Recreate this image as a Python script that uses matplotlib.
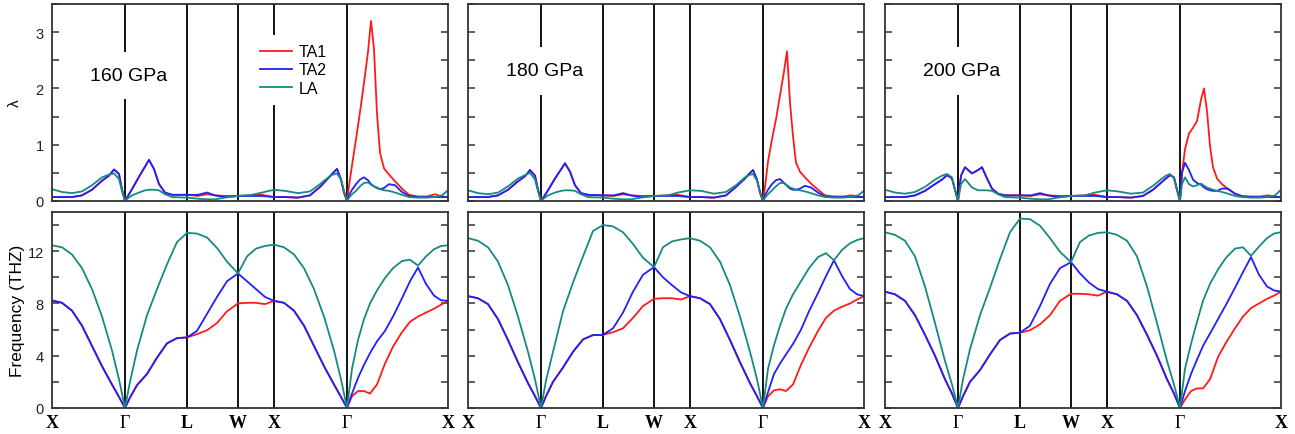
import numpy as np
import matplotlib.pyplot as plt
from matplotlib.ticker import MultipleLocator

plt.rcParams['font.family'] = ['Liberation Sans', 'DejaVu Sans']

# high-symmetry points along the path
KPTS = [0, 0.73, 1.35, 1.86, 2.22, 2.95, 3.96]
KLABELS = ['X', 'Γ', 'L', 'W', 'X', 'Γ', 'X']
PRESSURES = ['160 GPa', '180 GPa', '200 GPa']

# sample positions along the path (same units as KPTS * 100)
K_LAM = np.array([0, 10, 20, 30, 40, 50, 57, 62, 67, 70, 73,
                  76, 80, 87, 93, 97, 102, 107, 113, 120, 135,
                  146, 155, 163, 173, 186,
                  200, 210, 222,
                  233, 246, 258, 268, 277, 281, 285, 289, 292, 295,
                  297, 300, 304, 308, 312, 316, 319, 322, 325, 328,
                  332, 337, 343, 350, 357, 366, 375, 383, 390, 396]) / 100

K_FREQ = np.array([0, 10, 20, 30, 40, 50, 60, 67, 73,
                   78, 85, 95, 105, 115, 125, 135,
                   145, 155, 165, 175, 186,
                   195, 204, 213, 222,
                   232, 242, 252, 262, 272, 282, 289, 295,
                   300, 306, 312, 318, 325, 333, 341, 350, 358, 366, 374, 382, 389, 396]) / 100

# ---- electron-phonon coupling lambda ----
LAM160_TA1 = [0.07, 0.07, 0.07, 0.10, 0.20, 0.36, 0.45, 0.56, 0.48, 0.20, 0,
              0.09, 0.21, 0.43, 0.61, 0.73, 0.57, 0.30, 0.15, 0.11, 0.11,
              0.09, 0.12, 0.10, 0.09, 0.09,
              0.10, 0.11, 0.07,
              0.07, 0.06, 0.10, 0.25, 0.42, 0.50, 0.57, 0.38, 0.15, 0,
              0.27, 0.63, 1.10, 1.58, 2.10, 2.65, 3.20, 2.70, 1.55, 0.86,
              0.58, 0.47, 0.35, 0.22, 0.11, 0.08, 0.08, 0.12, 0.08, 0.07]
LAM160_TA2 = [0.07, 0.07, 0.07, 0.10, 0.20, 0.36, 0.45, 0.56, 0.48, 0.20, 0,
              0.09, 0.21, 0.43, 0.61, 0.73, 0.57, 0.30, 0.15, 0.11, 0.11,
              0.11, 0.15, 0.10, 0.07, 0.09,
              0.09, 0.09, 0.07,
              0.07, 0.06, 0.10, 0.25, 0.42, 0.50, 0.57, 0.38, 0.15, 0,
              0.10, 0.20, 0.30, 0.38, 0.42, 0.37, 0.30, 0.26, 0.23, 0.21,
              0.23, 0.30, 0.28, 0.16, 0.09, 0.07, 0.07, 0.07, 0.07, 0.07]
LAM160_LA = [0.21, 0.16, 0.14, 0.17, 0.28, 0.42, 0.47, 0.49, 0.39, 0.18, 0,
             0.05, 0.10, 0.15, 0.19, 0.20, 0.20, 0.19, 0.12, 0.07, 0.06,
             0.04, 0.03, 0.03, 0.06, 0.09,
             0.11, 0.15, 0.20,
             0.18, 0.14, 0.17, 0.30, 0.43, 0.47, 0.49, 0.38, 0.18, 0,
             0.06, 0.12, 0.18, 0.26, 0.32, 0.33, 0.29, 0.26, 0.24, 0.21,
             0.19, 0.18, 0.15, 0.11, 0.07, 0.06, 0.06, 0.07, 0.10, 0.19]

LAM180_TA1 = [0.07, 0.07, 0.07, 0.10, 0.20, 0.35, 0.44, 0.55, 0.45, 0.20, 0,
              0.08, 0.19, 0.40, 0.56, 0.67, 0.52, 0.28, 0.14, 0.11, 0.10,
              0.09, 0.12, 0.10, 0.09, 0.09,
              0.10, 0.11, 0.07,
              0.07, 0.06, 0.10, 0.25, 0.40, 0.48, 0.55, 0.38, 0.15, 0,
              0.25, 0.70, 1.10, 1.45, 1.88, 2.30, 2.66, 1.75, 1.15, 0.68,
              0.52, 0.42, 0.31, 0.20, 0.10, 0.08, 0.08, 0.10, 0.08, 0.07]
LAM180_TA2 = [0.07, 0.07, 0.07, 0.10, 0.20, 0.35, 0.44, 0.55, 0.45, 0.20, 0,
              0.08, 0.19, 0.40, 0.56, 0.67, 0.52, 0.28, 0.14, 0.11, 0.10,
              0.10, 0.14, 0.10, 0.07, 0.09,
              0.09, 0.09, 0.07,
              0.07, 0.06, 0.10, 0.25, 0.40, 0.48, 0.55, 0.38, 0.15, 0,
              0.10, 0.20, 0.30, 0.37, 0.39, 0.32, 0.27, 0.22, 0.20, 0.20,
              0.22, 0.27, 0.24, 0.15, 0.08, 0.07, 0.07, 0.07, 0.07, 0.07]
LAM180_LA = [0.19, 0.14, 0.12, 0.15, 0.26, 0.40, 0.46, 0.50, 0.38, 0.18, 0,
             0.05, 0.10, 0.15, 0.18, 0.19, 0.19, 0.18, 0.12, 0.07, 0.06,
             0.04, 0.03, 0.03, 0.06, 0.09,
             0.10, 0.15, 0.19,
             0.18, 0.13, 0.16, 0.28, 0.42, 0.46, 0.48, 0.36, 0.17, 0,
             0.06, 0.12, 0.19, 0.26, 0.32, 0.32, 0.28, 0.24, 0.22, 0.20,
             0.19, 0.17, 0.14, 0.10, 0.07, 0.06, 0.06, 0.07, 0.10, 0.18]

LAM200_TA1 = [0.07, 0.07, 0.07, 0.10, 0.18, 0.30, 0.38, 0.46, 0.40, 0.20, 0,
              0.45, 0.60, 0.49, 0.55, 0.60, 0.40, 0.22, 0.13, 0.10, 0.10,
              0.09, 0.12, 0.10, 0.09, 0.09,
              0.10, 0.11, 0.07,
              0.07, 0.06, 0.09, 0.20, 0.34, 0.40, 0.46, 0.42, 0.20, 0,
              0.50, 0.92, 1.20, 1.30, 1.42, 1.80, 2.00, 1.60, 0.98, 0.60,
              0.40, 0.30, 0.21, 0.13, 0.09, 0.08, 0.08, 0.10, 0.08, 0.07]
LAM200_TA2 = [0.07, 0.07, 0.07, 0.10, 0.18, 0.30, 0.38, 0.46, 0.40, 0.20, 0,
              0.45, 0.60, 0.49, 0.55, 0.60, 0.40, 0.22, 0.13, 0.10, 0.10,
              0.10, 0.14, 0.10, 0.07, 0.09,
              0.09, 0.09, 0.07,
              0.07, 0.06, 0.09, 0.20, 0.34, 0.40, 0.46, 0.42, 0.20, 0,
              0.50, 0.68, 0.55, 0.38, 0.32, 0.29, 0.24, 0.21, 0.19, 0.18,
              0.18, 0.22, 0.22, 0.13, 0.08, 0.07, 0.07, 0.07, 0.07, 0.07]
LAM200_LA = [0.20, 0.15, 0.13, 0.16, 0.25, 0.38, 0.45, 0.48, 0.42, 0.20, 0,
             0.30, 0.39, 0.24, 0.19, 0.19, 0.19, 0.18, 0.12, 0.07, 0.06,
             0.04, 0.03, 0.03, 0.06, 0.09,
             0.10, 0.15, 0.19,
             0.17, 0.13, 0.15, 0.27, 0.40, 0.45, 0.48, 0.40, 0.20, 0,
             0.30, 0.42, 0.30, 0.26, 0.28, 0.31, 0.27, 0.24, 0.22, 0.20,
             0.18, 0.16, 0.13, 0.09, 0.07, 0.06, 0.06, 0.07, 0.10, 0.20]

# ---- phonon frequencies (THz) ----
FRQ160_TA1 = [8.23, 8.05, 7.45, 6.3, 4.75, 3.2, 1.8, 0.85, 0,
              0.8, 1.75, 2.6, 3.85, 4.95, 5.35, 5.4,
              5.65, 5.95, 6.5, 7.4, 8.0,
              8.05, 8.05, 7.95, 8.2,
              8.05, 7.45, 6.3, 4.75, 3.2, 1.8, 0.85, 0,
              0.9, 1.3, 1.3, 1.1, 1.8, 3.4, 4.7, 5.8, 6.6, 7.0, 7.3, 7.6, 7.9, 8.2]
FRQ160_TA2 = [8.23, 8.05, 7.45, 6.3, 4.75, 3.2, 1.8, 0.85, 0,
              0.8, 1.75, 2.6, 3.85, 4.95, 5.35, 5.4,
              5.9, 7.2, 8.5, 9.7, 10.3,
              9.7, 9.1, 8.5, 8.2,
              8.05, 7.45, 6.3, 4.75, 3.2, 1.8, 0.85, 0,
              1.1, 2.3, 3.3, 4.2, 5.1, 5.9, 7.0, 8.4, 9.7, 10.75, 9.5, 8.6, 8.25, 8.2]
FRQ160_LA = [12.45, 12.3, 11.75, 10.7, 9.1, 7.0, 4.4, 2.2, 0,
             2.0, 4.4, 7.1, 9.1, 11.0, 12.7, 13.4,
             13.35, 13.05, 12.25, 11.2, 10.3,
             11.6, 12.2, 12.4, 12.5,
             12.3, 11.75, 10.7, 9.1, 7.0, 4.4, 2.2, 0,
             3.0, 5.2, 6.8, 8.0, 9.0, 9.95, 10.7, 11.25, 11.35, 10.9, 11.6, 12.15, 12.4, 12.45]

FRQ180_TA1 = [8.56, 8.4, 7.95, 6.8, 5.2, 3.5, 1.9, 0.9, 0,
              0.9, 2.0, 3.1, 4.3, 5.25, 5.58, 5.6,
              5.8, 6.1, 6.9, 7.8, 8.36,
              8.4, 8.4, 8.3, 8.56,
              8.4, 7.95, 6.8, 5.2, 3.5, 1.9, 0.9, 0,
              0.9, 1.35, 1.43, 1.3, 1.8, 3.3, 4.6, 5.9, 6.9, 7.45, 7.75, 8.0, 8.3, 8.56]
FRQ180_TA2 = [8.56, 8.4, 7.95, 6.8, 5.2, 3.5, 1.9, 0.9, 0,
              0.9, 2.0, 3.1, 4.3, 5.25, 5.58, 5.6,
              6.1, 7.3, 8.9, 10.2, 10.78,
              10.0, 9.4, 8.85, 8.56,
              8.4, 7.95, 6.8, 5.2, 3.5, 1.9, 0.9, 0,
              1.2, 2.6, 3.4, 4.1, 4.9, 6.0, 7.4, 8.8, 10.1, 11.3, 10.1, 9.1, 8.7, 8.56]
FRQ180_LA = [13.0, 12.8, 12.3, 11.2, 9.4, 7.0, 4.3, 2.2, 0,
             2.1, 4.3, 7.4, 9.6, 11.6, 13.55, 14.0,
             13.9, 13.45, 12.55, 11.5, 10.78,
             12.3, 12.75, 12.9, 13.0,
             12.8, 12.3, 11.2, 9.4, 7.0, 4.3, 2.2, 0,
             3.0, 4.8, 6.3, 7.6, 8.7, 9.7, 10.7, 11.55, 11.85, 11.3, 12.1, 12.6, 12.85, 13.0]

FRQ200_TA1 = [8.9, 8.7, 8.2, 7.1, 5.6, 4.0, 2.2, 1.1, 0,
              0.9, 2.0, 2.9, 4.1, 5.2, 5.7, 5.76,
              5.95, 6.4, 7.1, 8.2, 8.74,
              8.74, 8.7, 8.6, 8.9,
              8.7, 8.2, 7.1, 5.6, 4.0, 2.2, 1.1, 0,
              0.65, 1.3, 1.5, 1.5, 2.2, 3.9, 5.0, 6.1, 7.0, 7.65, 8.0, 8.35, 8.6, 8.9]
FRQ200_TA2 = [8.9, 8.7, 8.2, 7.1, 5.6, 4.0, 2.2, 1.1, 0,
              0.9, 2.0, 2.9, 4.1, 5.2, 5.7, 5.76,
              6.3, 7.8, 9.5, 10.7, 11.16,
              10.3, 9.6, 9.1, 8.9,
              8.7, 8.2, 7.1, 5.6, 4.0, 2.2, 1.1, 0,
              1.3, 2.6, 3.7, 4.75, 5.7, 6.8, 7.9, 9.2, 10.4, 11.55, 10.2, 9.3, 9.0, 8.9]
FRQ200_LA = [13.45, 13.25, 12.8, 11.6, 9.3, 6.5, 3.6, 1.8, 0,
             2.2, 4.5, 7.1, 9.2, 11.4, 13.45, 14.5,
             14.45, 13.95, 13.0, 11.95, 11.16,
             12.7, 13.2, 13.4, 13.45,
             13.25, 12.8, 11.6, 9.3, 6.5, 3.6, 1.8, 0,
             3.0, 4.9, 6.6, 8.2, 9.5, 10.6, 11.5, 12.2, 12.3, 11.65, 12.35, 13.0, 13.35, 13.45]

RED = '#ff1a1a'
BLUE = '#2020ff'
TEAL = '#168a82'
SPINE = '#333333'

panels = [
    (LAM160_TA1, LAM160_TA2, LAM160_LA, FRQ160_TA1, FRQ160_TA2, FRQ160_LA),
    (LAM180_TA1, LAM180_TA2, LAM180_LA, FRQ180_TA1, FRQ180_TA2, FRQ180_LA),
    (LAM200_TA1, LAM200_TA2, LAM200_LA, FRQ200_TA1, FRQ200_TA2, FRQ200_LA),
]

W, H = 1295, 435
fig = plt.figure(figsize=(W / 100, H / 100), dpi=100)
lefts = [52, 468, 885]
text_y = [2.23, 2.31, 2.31]
lw = 1.3

for i, (l1, l2, l3, f1, f2, f3) in enumerate(panels):
    x0 = lefts[i] / W
    ax_l = fig.add_axes([x0, 1 - 202 / H, 396 / W, 197 / H])
    ax_f = fig.add_axes([x0, 1 - 409 / H, 396 / W, 196 / H])

    for ax in (ax_l, ax_f):
        for k in KPTS[1:-1]:
            ax.axvline(k, color='black', lw=1.3, zorder=1)
        ax.set_xlim(0, 3.96)
        ax.set_xticks(KPTS)
        ax.tick_params(axis='x', length=0, pad=4)
        ax.tick_params(axis='y', which='both', direction='in', left=True, right=True,
                       length=5, width=1.1, color=SPINE, labelsize=10.5, pad=6,
                       labelcolor='#222222')
        for s in ax.spines.values():
            s.set_color(SPINE)
            s.set_linewidth(1.3)
        if i > 0:
            ax.tick_params(axis='y', labelleft=False)

    ax_l.plot(K_LAM, l1, color=RED, lw=lw, label='TA1', zorder=2, solid_joinstyle='round')
    ax_l.plot(K_LAM, l2, color=BLUE, lw=lw, label='TA2', zorder=2, solid_joinstyle='round')
    ax_l.plot(K_LAM, l3, color=TEAL, lw=lw, label='LA', zorder=2, solid_joinstyle='round')
    ax_l.set_ylim(0, 3.5)
    ax_l.yaxis.set_major_locator(MultipleLocator(1))
    ax_l.yaxis.set_minor_locator(MultipleLocator(0.5))
    ax_l.set_xticklabels([])
    ax_l.text(0.38, text_y[i], PRESSURES[i], fontsize=14, va='center', ha='left', zorder=5,
              bbox=dict(facecolor='white', edgecolor='none', pad=11))

    ax_f.plot(K_FREQ, f1, color=RED, lw=lw, zorder=2, solid_joinstyle='round')
    ax_f.plot(K_FREQ, f2, color=BLUE, lw=lw, zorder=2, solid_joinstyle='round')
    ax_f.plot(K_FREQ, f3, color=TEAL, lw=lw, zorder=2, solid_joinstyle='round')
    ax_f.set_ylim(0, 15)
    ax_f.yaxis.set_major_locator(MultipleLocator(4))
    ax_f.yaxis.set_minor_locator(MultipleLocator(2))
    ax_f.set_xticklabels(KLABELS, fontfamily='Liberation Serif', fontweight='bold', fontsize=13)
    for lbl in ax_f.get_xticklabels():
        if lbl.get_text() == 'Γ':
            lbl.set_fontweight('normal')

    if i == 0:
        ax_l.set_ylabel('λ', fontsize=11)
        ax_l.yaxis.set_label_coords(-0.075, 0.5)
        ax_f.set_ylabel('Frequency (THZ)', fontsize=12.5)
        ax_f.yaxis.set_label_coords(-0.068, 0.5)
        leg = ax_l.legend(loc='center', bbox_to_anchor=(0.61, 0.665), fontsize=11.5,
                          handlelength=2.0, handletextpad=0.4, labelspacing=0.2,
                          borderpad=0.6, frameon=True, fancybox=False)
        leg.get_frame().set_edgecolor('none')
        leg.get_frame().set_facecolor('white')
        leg.get_frame().set_alpha(1)
        leg.set_zorder(5)

fig.savefig('out.png', dpi=100)
